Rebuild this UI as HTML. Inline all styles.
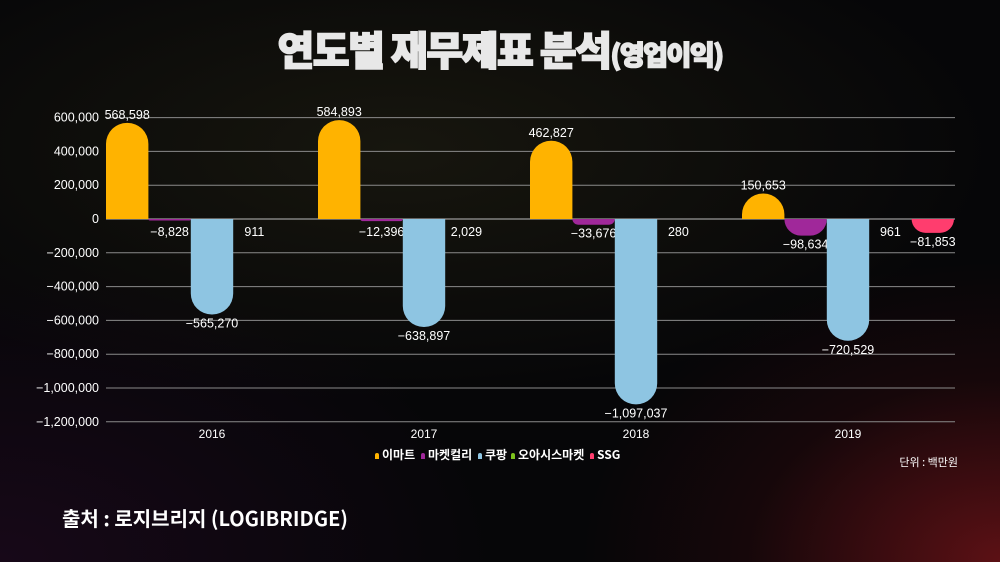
<!DOCTYPE html>
<html><head><meta charset="utf-8">
<style>
html,body{margin:0;padding:0;}
body{width:1000px;height:562px;overflow:hidden;background:#050507;font-family:"Liberation Sans","Noto Sans CJK KR",sans-serif;}
.bg{position:absolute;left:0;top:0;width:1000px;height:562px;
background:
radial-gradient(ellipse 420px 300px at 1000px 560px, rgba(120,20,25,0.75), rgba(60,10,15,0.3) 60%, rgba(0,0,0,0) 100%),
radial-gradient(ellipse 500px 300px at 0px 560px, rgba(40,10,40,0.5), rgba(0,0,0,0) 100%),
radial-gradient(ellipse 600px 250px at 400px 150px, rgba(40,38,20,0.5), rgba(0,0,0,0) 100%),
#060608;}
svg{position:absolute;left:0;top:0;}
</style></head>
<body>
<div class="bg"></div>
<svg id="s" width="1000" height="562" xmlns="http://www.w3.org/2000/svg" font-family="Liberation Sans, Noto Sans CJK KR, sans-serif">
<text x="500" y="65" text-anchor="middle" fill="#e8e8e8" stroke="#e8e8e8" stroke-width="1.6" font-weight="900" font-family="Noto Sans CJK KR, sans-serif" font-size="40" letter-spacing="-1.5">연도별 재무제표 분석<tspan font-size="27">(영업이익)</tspan></text>
<g id="g"></g>
<text x="62" y="526" fill="#fff" font-weight="bold" font-family="Noto Sans CJK KR, sans-serif" font-size="20">출처 : 로지브리지 (LOGIBRIDGE)</text>
<text x="958" y="466" text-anchor="end" fill="#fff" font-family="Noto Sans CJK KR, sans-serif" font-size="11">단위 : 백만원</text>
<g font-family="Noto Sans CJK KR, sans-serif" font-size="12" font-weight="bold" fill="#fff">
<path d="M375,459 v-4 a2,2 0 0 1 4,0 v4z" fill="#ffb300"/><text x="382" y="459">이마트</text>
<path d="M421,459 v-4 a2,2 0 0 1 4,0 v4z" fill="#a0289a"/><text x="428" y="459">마켓컬리</text>
<path d="M478,459 v-4 a2,2 0 0 1 4,0 v4z" fill="#8ec5e2"/><text x="485" y="459">쿠팡</text>
<path d="M511,459 v-4 a2,2 0 0 1 4,0 v4z" fill="#7cc21c"/><text x="518" y="459">오아시스마켓</text>
<path d="M590,459 v-4 a2,2 0 0 1 4,0 v4z" fill="#ff3d6e"/><text x="597" y="459">SSG</text>
</g>
</svg>
<script>
var g=document.getElementById('g'),NS='http://www.w3.org/2000/svg';
function el(t,a,txt){var e=document.createElementNS(NS,t);for(var k in a)e.setAttribute(k,a[k]);if(txt)e.textContent=txt;g.appendChild(e);return e;}
var Z=219,S=16.9/100000;
for(var i=-6;i<=3;i++){var y=Z-i*200000*S;
 el('line',{x1:106,x2:955,y1:y,y2:y,stroke:i==0?'#bbb':'#8a8a8a','stroke-width':1});
 var v=i*200000;var s=(v<0?'\u2212':'')+Math.abs(v).toLocaleString('en-US');
 el('text',{x:99,y:y+4,'text-anchor':'end',fill:'#fff','font-size':12.5},s);}
var cols=['#ffb300','#a0289a','#8ec5e2','#7cc21c','#ff3d6e'];
var data=[[568598,-8828,-565270,911,null],[584893,-12396,-638897,2029,null],[462827,-33676,-1097037,280,null],[150653,-98634,-720529,961,-81853]];
var years=['2016','2017','2018','2019'];
var bw=42.4;
data.forEach(function(d,gi){var gx=106+gi*212;
 el('text',{x:gx+106,y:438,'text-anchor':'middle',fill:'#fff','font-size':12},years[gi]);
 d.forEach(function(v,bi){if(v===null)return;var x=gx+bi*bw,h=Math.abs(v)*S,r=Math.min(21,h,bw/2);
  var p;if(v>=0){p='M'+x+','+Z+'V'+(Z-h+r)+'A'+r+','+r+' 0 0 1 '+(x+r)+','+(Z-h)+'H'+(x+bw-r)+'A'+r+','+r+' 0 0 1 '+(x+bw)+','+(Z-h+r)+'V'+Z+'Z';}
  else{p='M'+x+','+Z+'V'+(Z+h-r)+'A'+r+','+r+' 0 0 0 '+(x+r)+','+(Z+h)+'H'+(x+bw-r)+'A'+r+','+r+' 0 0 0 '+(x+bw)+','+(Z+h-r)+'V'+Z+'Z';}
  if(h>0.5)el('path',{d:p,fill:cols[bi]});
  var s=(v<0?'\u2212':'')+Math.abs(v).toLocaleString('en-US');var cx=x+bw/2,ty;
  if(v>=0){ty=(bi==3)?Z+17:Z-h-4;}else{ty=Math.max(Z+h+13,Z+17);}
  el('text',{x:cx,y:ty,'text-anchor':'middle',fill:'#fff','font-size':12.5},s);
 });});
</script>
</body></html>
